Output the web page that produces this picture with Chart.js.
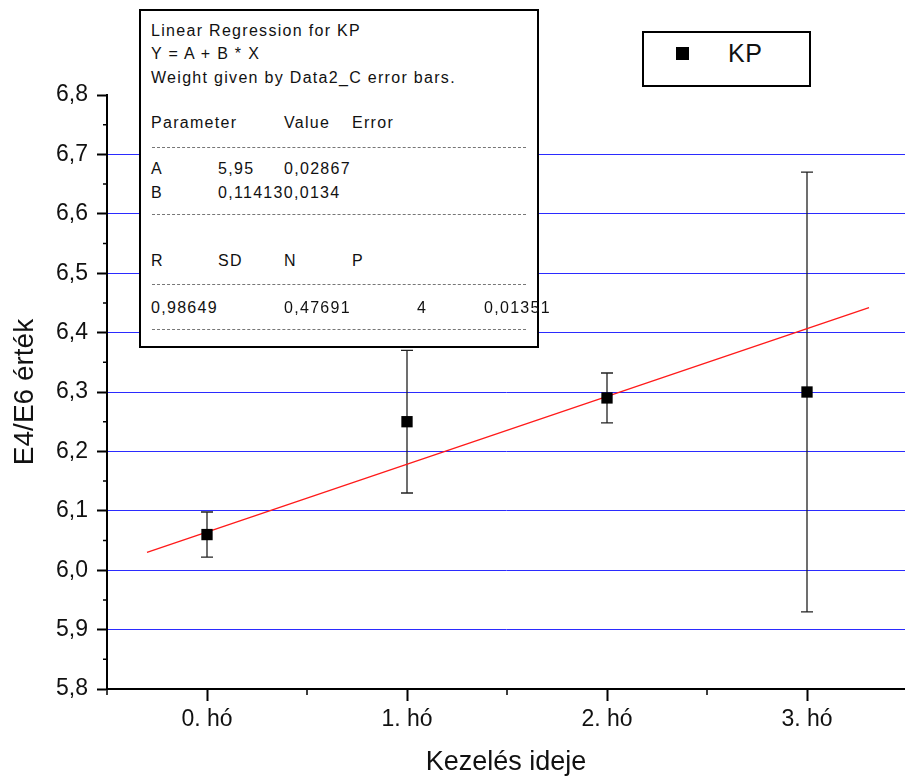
<!DOCTYPE html>
<html>
<head>
<meta charset="utf-8">
<script src="https://cdn.jsdelivr.net/npm/chart.js"></script>
<style>
  html, body { margin: 0; padding: 0; background: #fff; overflow: hidden; }
  #wrap { position: relative; width: 905px; height: 781px; overflow: hidden; font-family: "Liberation Sans", Arial, sans-serif; }
  #chart { display: block; width: 905px; height: 781px; }
  .box { position: absolute; border: 2px solid #000; background: #fff; box-sizing: border-box; }
  .t { position: absolute; font-size: 16px; letter-spacing: 1.3px; color: #111; white-space: nowrap; line-height: 1; }
  .dash { position: absolute; left: 11px; width: 374px; border-top: 1px dashed #777; }
</style>
</head>
<body>
<div id="wrap">
  <canvas id="chart" width="905" height="781"></canvas>
  <div class="box" id="stats" style="left:139px; top:9px; width:400px; height:339px;">
    <div class="t" style="left:10px; top:12px;">Linear Regression for KP</div>
    <div class="t" style="left:10px; top:35px;">Y = A + B * X</div>
    <div class="t" style="left:10px; top:59px;">Weight given by Data2_C error bars.</div>
    <div class="t" style="left:10px; top:104px;">Parameter</div>
    <div class="t" style="left:143px; top:104px;">Value</div>
    <div class="t" style="left:211px; top:104px;">Error</div>
    <div class="dash" style="top:136px;"></div>
    <div class="t" style="left:10px; top:150px;">A</div>
    <div class="t" style="left:77px; top:150px;">5,95</div>
    <div class="t" style="left:143px; top:150px;">0,02867</div>
    <div class="t" style="left:10px; top:174px;">B</div>
    <div class="t" style="left:77px; top:174px;">0,114130,0134</div>
    <div class="dash" style="top:203px;"></div>
    <div class="t" style="left:10px; top:242px;">R</div>
    <div class="t" style="left:77px; top:242px;">SD</div>
    <div class="t" style="left:143px; top:242px;">N</div>
    <div class="t" style="left:211px; top:242px;">P</div>
    <div class="dash" style="top:273px;"></div>
    <div class="t" style="left:10px; top:289px;">0,98649</div>
    <div class="t" style="left:143px; top:289px;">0,47691</div>
    <div class="t" style="left:276px; top:289px;">4</div>
    <div class="t" style="left:343px; top:289px;">0,01351</div>
    <div class="dash" style="top:318px;"></div>
  </div>
  <div class="box" id="legend" style="left:642px; top:31px; width:169px; height:56px;">
    <div style="position:absolute; left:32px; top:14px; width:13px; height:13px; background:#000;"></div>
    <div class="t" style="left:84px; top:8px; font-size:25px; letter-spacing:0.5px;">KP</div>
  </div>
</div>
<script>
const categories = ['0. hó', '1. hó', '2. hó', '3. hó'];
const xValues = [1, 2, 3, 4];
const kpValues = [6.06, 6.25, 6.29, 6.30];
const kpErrors = [0.038, 0.12, 0.042, 0.37];
const fitX = [0.7, 4.31];
const fitY = [6.03, 6.442];
const yTicks = [5.8, 5.9, 6.0, 6.1, 6.2, 6.3, 6.4, 6.5, 6.6, 6.7, 6.8];

const FONT = '"Liberation Sans", Arial, sans-serif';

const errorBars = {
  id: 'errorBars',
  beforeDatasetsDraw(chart) {
    const { ctx, scales: { x, y } } = chart;
    ctx.save();
    ctx.strokeStyle = '#222';
    ctx.lineWidth = 1.3;
    xValues.forEach((xv, i) => {
      const px = x.getPixelForValue(xv);
      const top = y.getPixelForValue(kpValues[i] + kpErrors[i]);
      const bot = y.getPixelForValue(kpValues[i] - kpErrors[i]);
      ctx.beginPath();
      ctx.moveTo(px, top); ctx.lineTo(px, bot);
      ctx.moveTo(px - 6, top); ctx.lineTo(px + 6, top);
      ctx.moveTo(px - 6, bot); ctx.lineTo(px + 6, bot);
      ctx.stroke();
    });
    ctx.restore();
  }
};

// minor ticks halfway between the major ones
const minorTicks = {
  id: 'minorTicks',
  afterDraw(chart) {
    const { ctx, scales: { x, y }, chartArea } = chart;
    ctx.save();
    ctx.strokeStyle = '#000';
    ctx.lineWidth = 1.5;
    ctx.beginPath();
    for (let i = 0; i < yTicks.length - 1; i++) {
      const py = y.getPixelForValue((yTicks[i] + yTicks[i + 1]) / 2);
      ctx.moveTo(chartArea.left - 4, py); ctx.lineTo(chartArea.left, py);
    }
    [0.5, 1.5, 2.5, 3.5].forEach(v => {
      const px = x.getPixelForValue(v);
      ctx.moveTo(px, chartArea.bottom); ctx.lineTo(px, chartArea.bottom + 6);
    });
    ctx.stroke();
    ctx.restore();
  }
};

new Chart(document.getElementById('chart'), {
  type: 'scatter',
  data: {
    datasets: [
      {
        label: 'KP',
        data: xValues.map((v, i) => ({ x: v, y: kpValues[i] })),
        pointStyle: 'rect',
        pointRadius: 8,
        pointHoverRadius: 8,
        backgroundColor: '#000',
        borderColor: '#000',
        borderWidth: 0,
        order: 0
      },
      {
        label: 'fit',
        type: 'line',
        data: fitX.map((v, i) => ({ x: v, y: fitY[i] })),
        borderColor: '#ff1a1a',
        borderWidth: 1.3,
        pointRadius: 0,
        fill: false,
        order: 1
      }
    ]
  },
  options: {
    responsive: false,
    maintainAspectRatio: false,
    animation: false,
    devicePixelRatio: 1,
    layout: { autoPadding: false, padding: { top: 95, right: 0, left: 0, bottom: 0 } },
    plugins: { legend: { display: false }, tooltip: { enabled: false } },
    scales: {
      x: {
        type: 'linear',
        min: 0.5,
        max: 4.49,
        afterFit(s) { s.height = 92; s.paddingRight = 0; s.paddingLeft = 0; },
        afterBuildTicks(s) { s.ticks = xValues.map(v => ({ value: v })); },
        border: { color: '#000', width: 2 },
        grid: { drawOnChartArea: false, drawTicks: true, tickLength: 12, tickColor: '#000', tickWidth: 2 },
        ticks: {
          color: '#111',
          font: { family: FONT, size: 23 },
          padding: 5,
          callback: v => categories[xValues.indexOf(v)]
        },
        title: {
          display: true,
          text: 'Kezelés ideje',
          color: '#111',
          font: { family: FONT, size: 27 },
          padding: { top: 0, bottom: 2 }
        }
      },
      y: {
        min: 5.8,
        max: 6.8,
        afterFit(s) { s.width = 107; },
        afterBuildTicks(s) { s.ticks = yTicks.map(v => ({ value: v })); },
        border: { color: '#000', width: 2 },
        grid: {
          drawTicks: true,
          tickLength: 10,
          tickColor: '#000',
          tickWidth: 2,
          color: ctx => (ctx.tick && (ctx.tick.value > 6.75 || ctx.tick.value < 5.85)) ? 'rgba(0,0,0,0)' : '#2b2bff',
          lineWidth: 1
        },
        ticks: {
          color: '#111',
          font: { family: FONT, size: 23 },
          padding: 9,
          callback: v => v.toFixed(1).replace('.', ',')
        },
        title: {
          display: true,
          text: 'E4/E6 érték',
          color: '#111',
          font: { family: FONT, size: 28 },
          padding: { top: 8, bottom: 0 }
        }
      }
    }
  },
  plugins: [errorBars, minorTicks]
});
</script>
</body>
</html>
